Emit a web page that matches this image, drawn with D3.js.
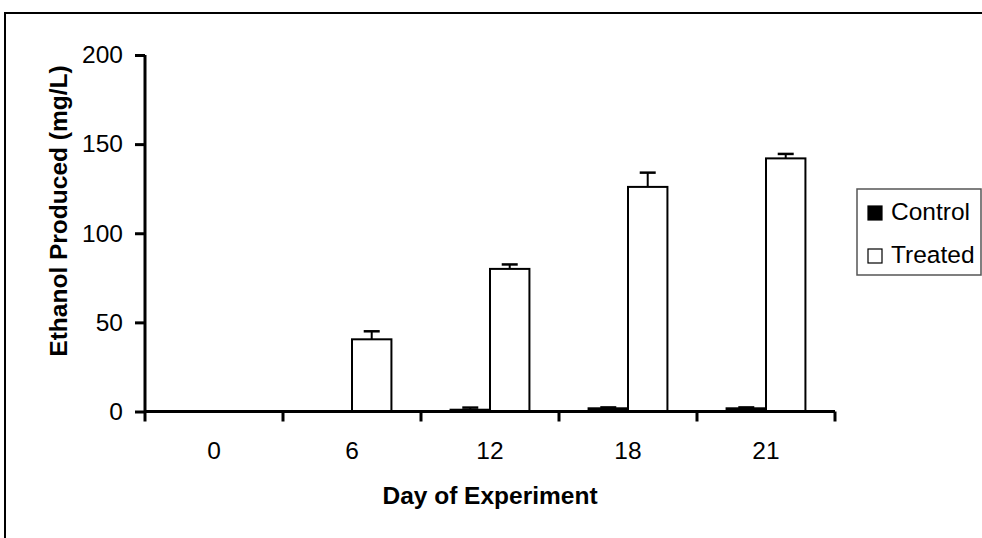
<!DOCTYPE html>
<html>
<head>
<meta charset="utf-8">
<script src="https://cdn.jsdelivr.net/npm/d3@7"></script>
<style>
  body { margin: 0; background: #fff; }
  svg { font-family: "Liberation Sans", Arial, sans-serif; }
</style>
</head>
<body>
<svg id="chart" width="982" height="538"></svg>
<script>
// data
var days = ["0", "6", "12", "18", "21"];
var series = ["Control", "Treated"];
var controlValues = [0, 0, 1, 1.8, 1.8];
var controlErr = [0, 0, 1.2, 0.5, 0.5];
var treatedValues = [0, 40.5, 80, 126, 142];
var treatedErr = [0, 4.5, 2.5, 8, 2.5];
var yTicks = [0, 50, 100, 150, 200];

var svg = d3.select("#chart"),
	MARGINS = { top: 55, right: 147, bottom: 127, left: 145 },
	WIDTH = 982,
	HEIGHT = 538,
	FONT = 24.5;

// outer frame of the chart area
svg.append("rect")
	.attr("x", 5).attr("y", 13)
	.attr("width", 1000).attr("height", 600)
	.attr("fill", "none")
	.attr("stroke", "#000")
	.attr("stroke-width", 2);

var xScale = d3.scaleBand()
	.domain(days)
	.range([MARGINS.left, WIDTH - MARGINS.right]);

var xSub = d3.scaleBand()
	.domain(series)
	.range([0, xScale.bandwidth()])
	.paddingOuter(0.75);

var yScale = d3.scaleLinear()
	.domain([0, 200])
	.range([HEIGHT - MARGINS.bottom + 0.5, MARGINS.top]);

var rows = [];
days.forEach(function(d, i) {
	rows.push({ day: d, s: "Control", v: controlValues[i], e: controlErr[i] });
	rows.push({ day: d, s: "Treated", v: treatedValues[i], e: treatedErr[i] });
});

function mid(r) {
	return xScale(r.day) + xSub(r.s) + xSub.bandwidth() / 2;
}

// error bars (upper only)
var errRows = rows.filter(function(r) { return r.e > 0; });
svg.append("g").selectAll("line")
	.data(errRows).enter().append("line")
	.attr("x1", mid).attr("x2", mid)
	.attr("y1", function(r) { return yScale(r.v); })
	.attr("y2", function(r) { return yScale(r.v + r.e); })
	.attr("stroke", "#000").attr("stroke-width", 2);
svg.append("g").selectAll("line")
	.data(errRows).enter().append("line")
	.attr("x1", function(r) { return mid(r) - 8; })
	.attr("x2", function(r) { return mid(r) + 8; })
	.attr("y1", function(r) { return yScale(r.v + r.e); })
	.attr("y2", function(r) { return yScale(r.v + r.e); })
	.attr("stroke", "#000").attr("stroke-width", 2.5);

// bars
svg.append("g").selectAll("rect")
	.data(rows.filter(function(r) { return r.v > 0; })).enter().append("rect")
	.attr("x", function(r) { return xScale(r.day) + xSub(r.s); })
	.attr("y", function(r) { return yScale(r.v); })
	.attr("width", xSub.bandwidth())
	.attr("height", function(r) { return yScale(0) - yScale(r.v); })
	.attr("fill", function(r) { return r.s == "Control" ? "#000" : "#fff"; })
	.attr("stroke", "#000")
	.attr("stroke-width", 2);

// y axis
var yAxis = d3.axisLeft(yScale).tickValues(yTicks).tickSize(10).tickPadding(12);
var gy = svg.append("g")
	.attr("transform", "translate(" + MARGINS.left + ",0)")
	.call(yAxis);
gy.select(".domain").attr("stroke-width", 3).attr("d", "M0," + yScale(200) + "V" + yScale(0));
gy.selectAll(".tick line").attr("stroke-width", 3);
gy.selectAll("text")
	.attr("font-size", FONT)
	.attr("font-family", "Liberation Sans, Arial")
	.attr("fill", "#000");

// x axis: ticks on category boundaries
var xAxisY = yScale(0);
var gx = svg.append("g");
gx.append("line")
	.attr("x1", MARGINS.left).attr("x2", WIDTH - MARGINS.right)
	.attr("y1", xAxisY).attr("y2", xAxisY)
	.attr("stroke", "#000").attr("stroke-width", 3);
var bounds = days.map(function(d) { return xScale(d); }).concat([xScale.range()[1]]);
gx.selectAll("line.tk").data(bounds).enter().append("line")
	.attr("x1", function(b) { return b; }).attr("x2", function(b) { return b; })
	.attr("y1", xAxisY).attr("y2", xAxisY + 10)
	.attr("stroke", "#000").attr("stroke-width", 3);
gx.selectAll("text").data(days).enter().append("text")
	.attr("x", function(d) { return xScale(d) + xScale.bandwidth() / 2; })
	.attr("y", xAxisY + 47)
	.attr("text-anchor", "middle")
	.attr("font-size", FONT)
	.text(function(d) { return d; });

// axis titles
svg.append("text")
	.attr("x", (MARGINS.left + WIDTH - MARGINS.right) / 2)
	.attr("y", 504)
	.attr("text-anchor", "middle")
	.attr("font-size", FONT).attr("font-weight", "bold")
	.text("Day of Experiment");
svg.append("text")
	.attr("transform", "translate(67,211) rotate(-90)")
	.attr("text-anchor", "middle")
	.attr("font-size", FONT).attr("font-weight", "bold")
	.text("Ethanol Produced (mg/L)");

// legend
var lg = svg.append("g").attr("transform", "translate(857,189)");
lg.append("rect")
	.attr("x", 0).attr("y", 0).attr("width", 124).attr("height", 86)
	.attr("fill", "#fff").attr("stroke", "#555").attr("stroke-width", 1.5);
series.forEach(function(s, i) {
	lg.append("rect")
		.attr("x", 11).attr("y", 17 + i * 43)
		.attr("width", 14).attr("height", 14)
		.attr("fill", s == "Control" ? "#000" : "#fff")
		.attr("stroke", "#000").attr("stroke-width", 1.2);
	lg.append("text")
		.attr("x", 34).attr("y", 31 + i * 43)
		.attr("font-size", FONT)
		.text(s);
});
</script>
</body>
</html>
